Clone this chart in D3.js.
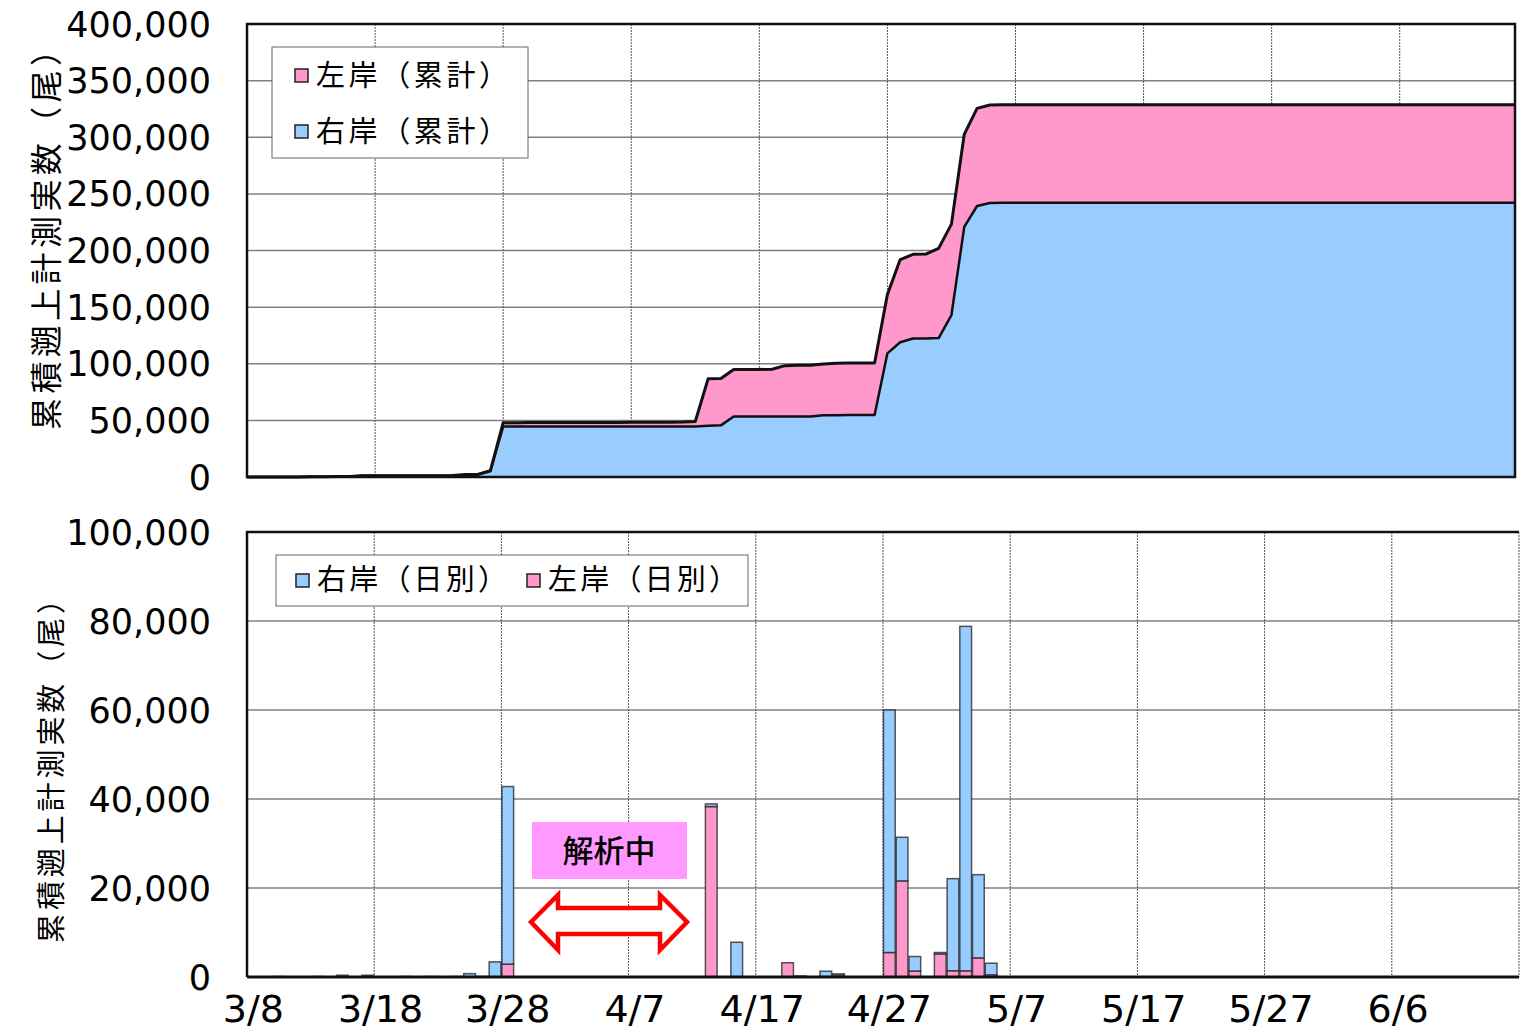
<!DOCTYPE html>
<html>
<head>
<meta charset="utf-8">
<title>累積遡上計測実数</title>
<script src="https://cdn.jsdelivr.net/npm/d3@7"></script>
<style>
html, body { margin: 0; background: #fff; }
text { font-family: "DejaVu Sans", sans-serif; fill: #000; }
.jp { font-family: "Noto Sans CJK JP", sans-serif; }
</style>
</head>
<body>
<svg id="chart" width="1531" height="1032"></svg>
<script>

// categories: one per day, 3/8 .. 6/15
var days = d3.timeDay.range(new Date(2021, 2, 8), new Date(2021, 5, 16));
var xTickLabels = ["3/8", "3/18", "3/28", "4/7", "4/17", "4/27", "5/7", "5/17", "5/27", "6/6"];

// cumulative counts (top chart)
var rightCum = [
  0, 0, 100, 100, 100, 200, 200, 500, 500, 1000,
  1000, 1000, 1100, 1100, 1200, 1200, 1300, 2000, 2100, 5300,
  44500, 44500, 44500, 44500, 44500, 44500, 44500, 44500, 44500, 44500,
  44500, 44500, 44500, 44500, 44500, 44600, 45300, 45600, 53400, 53500,
  53500, 53500, 53500, 53500, 53500, 54500, 54600, 54700, 54700, 54700,
  109200, 119000, 122300, 122400, 122700, 143000, 220800, 239300, 242000, 242200,
  242200, 242200, 242200, 242200, 242200, 242200, 242200, 242200, 242200, 242200,
  242200, 242200, 242200, 242200, 242200, 242200, 242200, 242200, 242200, 242200,
  242200, 242200, 242200, 242200, 242200, 242200, 242200, 242200, 242200, 242200,
  242200, 242200, 242200, 242200, 242200, 242200, 242200, 242200, 242200, 242200
];
var leftCum = [
  0, 0, 0, 0, 0, 0, 0, 0, 0, 0,
  0, 0, 0, 0, 0, 0, 0, 100, 100, 200,
  3500, 3500, 3600, 3600, 3600, 3600, 3600, 3700, 3700, 3700,
  3800, 3800, 3900, 3900, 4000, 4400, 41400, 41400, 41500, 41500,
  41500, 41600, 44800, 45100, 45100, 45200, 45900, 46000, 46000, 46000,
  52000, 73000, 74300, 74400, 79200, 80300, 81800, 86200, 86500, 86600,
  86600, 86600, 86600, 86600, 86600, 86600, 86600, 86600, 86600, 86600,
  86600, 86600, 86600, 86600, 86600, 86600, 86600, 86600, 86600, 86600,
  86600, 86600, 86600, 86600, 86600, 86600, 86600, 86600, 86600, 86600,
  86600, 86600, 86600, 86600, 86600, 86600, 86600, 86600, 86600, 86600
];

// daily counts (bottom chart)
var rightDay = [
  0, 0, 100, 0, 0, 100, 0, 400, 0, 400,
  0, 0, 100, 0, 100, 0, 100, 750, 100, 3400,
  39900, 0, 0, 0, 0, 0, 0, 0, 0, 0,
  0, 0, 0, 0, 0, 0, 600, 0, 7800, 0,
  0, 0, 0, 100, 0, 1200, 200, 0, 0, 0,
  54500, 9800, 3250, 0, 300, 20700, 77400, 18700, 2600, 0,
  0, 0, 0, 0, 0, 0, 0, 0, 0, 0,
  0, 0, 0, 0, 0, 0, 0, 0, 0, 0,
  0, 0, 0, 0, 0, 0, 0, 0, 0, 0,
  0, 0, 0, 0, 0, 0, 0, 0, 0, 0
];
var leftDay = [
  0, 0, 0, 0, 0, 0, 0, 0, 0, 0,
  0, 0, 0, 0, 0, 0, 0, 0, 0, 0,
  2900, 0, 0, 0, 0, 0, 0, 0, 0, 0,
  0, 0, 0, 0, 0, 0, 38300, 0, 0, 0,
  0, 0, 3200, 100, 0, 100, 500, 0, 0, 0,
  5500, 21600, 1350, 0, 5200, 1400, 1400, 4300, 500, 0,
  0, 0, 0, 0, 0, 0, 0, 0, 0, 0,
  0, 0, 0, 0, 0, 0, 0, 0, 0, 0,
  0, 0, 0, 0, 0, 0, 0, 0, 0, 0,
  0, 0, 0, 0, 0, 0, 0, 0, 0, 0
];

var topTicks = [0, 50000, 100000, 150000, 200000, 250000, 300000, 350000, 400000];
var botTicks = [0, 20000, 40000, 60000, 80000, 100000];
var topLegend = ["左岸（累計）", "右岸（累計）"];
var botLegend = ["右岸（日別）", "左岸（日別）"];
var yTitle = "累積遡上計測実数（尾）";
var noteText = "解析中";

var BLUE = "#99ccff", PINK = "#ff99cc";
var fmt = d3.format(",");
var svg = d3.select("#chart");

// ---------- top chart: cumulative area ----------
var tx = d3.scalePoint().domain(d3.range(days.length)).range([247, 1515]);
var ty = d3.scaleLinear().domain([0, 400000]).range([477, 24]);

var gTop = svg.append("g");
gTop.selectAll(".hg").data(topTicks.slice(1)).enter().append("line")
  .attr("x1", 247).attr("x2", 1515)
  .attr("y1", d => ty(d)).attr("y2", d => ty(d))
  .attr("stroke", "#808080").attr("stroke-width", 1.5);
gTop.selectAll(".vg").data(d3.range(10, days.length, 10)).enter().append("line")
  .attr("x1", d => tx(d)).attr("x2", d => tx(d))
  .attr("y1", 24).attr("y2", 477)
  .attr("stroke", "#555").attr("stroke-width", 1).attr("stroke-dasharray", "2,1");

var idx = d3.range(days.length);
var areaBlue = d3.area().x(i => tx(i)).y0(ty(0)).y1(i => ty(rightCum[i]));
var areaPink = d3.area().x(i => tx(i)).y0(i => ty(rightCum[i])).y1(i => ty(rightCum[i] + leftCum[i]));
gTop.append("path").attr("d", areaBlue(idx)).attr("fill", BLUE);
gTop.append("path").attr("d", areaPink(idx)).attr("fill", PINK);
var lineBlue = d3.line().x(i => tx(i)).y(i => ty(rightCum[i]));
var lineTot = d3.line().x(i => tx(i)).y(i => ty(rightCum[i] + leftCum[i]));
gTop.append("path").attr("d", lineBlue(idx)).attr("fill", "none")
  .attr("stroke", "#111").attr("stroke-width", 2.5).attr("stroke-linejoin", "round");
gTop.append("path").attr("d", lineTot(idx)).attr("fill", "none")
  .attr("stroke", "#111").attr("stroke-width", 3).attr("stroke-linejoin", "round");

gTop.append("rect").attr("x", 247).attr("y", 24).attr("width", 1268).attr("height", 453)
  .attr("fill", "none").attr("stroke", "#111").attr("stroke-width", 2.5);

gTop.selectAll(".yl").data(topTicks).enter().append("text")
  .attr("x", 211).attr("y", d => ty(d)).attr("dy", "0.36em")
  .attr("text-anchor", "end").attr("font-size", 35)
  .text(d => fmt(d));

svg.append("text").attr("class", "jp")
  .attr("transform", "translate(47,232) rotate(-90)")
  .attr("text-anchor", "middle").attr("dy", "0.35em")
  .attr("font-size", 32).attr("textLength", 396).attr("lengthAdjust", "spacing")
  .text(yTitle);

// legend (top)
var lt = svg.append("g");
lt.append("rect").attr("x", 272).attr("y", 47).attr("width", 256).attr("height", 111)
  .attr("fill", "#fff").attr("stroke", "#666").attr("stroke-width", 1);
[PINK, BLUE].forEach(function (c, k) {
  var cy = 76 + k * 56;
  lt.append("rect").attr("x", 295).attr("y", cy - 7).attr("width", 13).attr("height", 13)
    .attr("fill", c).attr("stroke", "#222").attr("stroke-width", 1.5);
  lt.append("text").attr("class", "jp").attr("x", 316).attr("y", cy).attr("dy", "0.36em")
    .attr("font-size", 29).attr("textLength", 192).attr("lengthAdjust", "spacing")
    .text(topLegend[k]);
});

// ---------- bottom chart: daily stacked bars ----------
var bx = d3.scaleBand().domain(d3.range(days.length)).range([247, 1519]).padding(0);
var by = d3.scaleLinear().domain([0, 100000]).range([977, 532]);

var gBot = svg.append("g");
gBot.selectAll(".hg").data(botTicks.slice(1)).enter().append("line")
  .attr("x1", 247).attr("x2", 1519)
  .attr("y1", d => by(d)).attr("y2", d => by(d))
  .attr("stroke", "#808080").attr("stroke-width", 1.5);
gBot.selectAll(".vg").data(d3.range(10, days.length, 10)).enter().append("line")
  .attr("x1", d => bx(d)).attr("x2", d => bx(d))
  .attr("y1", 532).attr("y2", 977)
  .attr("stroke", "#555").attr("stroke-width", 1).attr("stroke-dasharray", "2,1");

var barRows = idx.map(i => ({ i: i, left: leftDay[i], right: rightDay[i] }));
var stack = d3.stack().keys(["left", "right"])(barRows);
var barColor = { left: PINK, right: BLUE };
gBot.selectAll(".series").data(stack).enter().append("g")
  .attr("fill", s => barColor[s.key])
  .selectAll("rect").data(s => s.filter(d => d[1] > d[0])).enter().append("rect")
  .attr("x", d => bx(d.data.i) + 0.5)
  .attr("width", bx.bandwidth() - 1)
  .attr("y", d => by(d[1]))
  .attr("height", d => by(d[0]) - by(d[1]))
  .attr("stroke", "#222").attr("stroke-opacity", 0.75).attr("stroke-width", 1.5);

gBot.append("path").attr("d", "M247,977V532H1519")
  .attr("fill", "none").attr("stroke", "#111").attr("stroke-width", 2.5);
gBot.append("line").attr("x1", 1519).attr("x2", 1519).attr("y1", 532).attr("y2", 977)
  .attr("stroke", "#555").attr("stroke-width", 1).attr("stroke-dasharray", "2,1");
gBot.append("line").attr("x1", 247).attr("x2", 1519).attr("y1", 977).attr("y2", 977)
  .attr("stroke", "#111").attr("stroke-width", 3);

gBot.selectAll(".yl").data(botTicks).enter().append("text")
  .attr("x", 211).attr("y", d => by(d)).attr("dy", "0.36em")
  .attr("text-anchor", "end").attr("font-size", 35)
  .text(d => fmt(d));

var labelIdx = xTickLabels.map((t, k) => k * 10);
gBot.selectAll(".xl").data(labelIdx).enter().append("text")
  .attr("x", d => bx(d) + bx.bandwidth() / 2).attr("y", 1022)
  .attr("text-anchor", "middle").attr("font-size", 38)
  .text((d, k) => xTickLabels[k]);

svg.append("text").attr("class", "jp")
  .attr("transform", "translate(52,764) rotate(-90)")
  .attr("text-anchor", "middle").attr("dy", "0.35em")
  .attr("font-size", 29).attr("textLength", 358).attr("lengthAdjust", "spacing")
  .text(yTitle);

// legend (bottom)
var lb = svg.append("g");
lb.append("rect").attr("x", 276).attr("y", 555).attr("width", 472).attr("height", 51)
  .attr("fill", "#fff").attr("stroke", "#666").attr("stroke-width", 1);
[[BLUE, 296], [PINK, 527]].forEach(function (c, k) {
  lb.append("rect").attr("x", c[1]).attr("y", 574).attr("width", 13).attr("height", 13)
    .attr("fill", c[0]).attr("stroke", "#222").attr("stroke-width", 1.5);
  lb.append("text").attr("class", "jp").attr("x", c[1] + 21).attr("y", 580).attr("dy", "0.36em")
    .attr("font-size", 29).attr("textLength", 190).attr("lengthAdjust", "spacing")
    .text(botLegend[k]);
});

// annotation: under analysis
var note = svg.append("g");
note.append("rect").attr("x", 532).attr("y", 822).attr("width", 155).attr("height", 57)
  .attr("fill", "#ff99ff");
note.append("text").attr("class", "jp").attr("x", 609).attr("y", 851).attr("dy", "0.36em")
  .attr("text-anchor", "middle").attr("font-size", 31).attr("font-weight", 500)
  .text(noteText);
note.append("path")
  .attr("d", "M531,922L558,895V908H660V895L687,922L660,950V934H558V950Z")
  .attr("fill", "#fff").attr("stroke", "#ff0000").attr("stroke-width", 4.5)
  .attr("stroke-linejoin", "miter");

</script>
</body>
</html>
